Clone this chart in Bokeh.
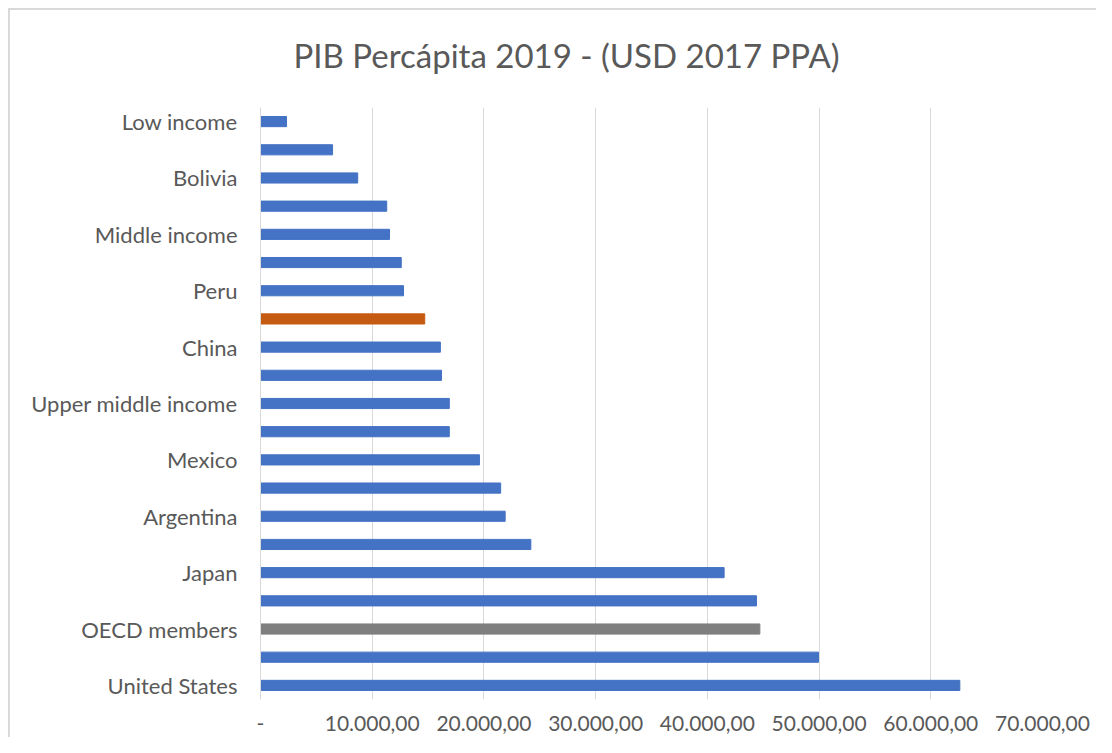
from bokeh.plotting import figure
from bokeh.models import Range1d, FixedTicker, ColumnDataSource, Title
from bokeh.embed import file_html
from bokeh.resources import INLINE

# Categories top to bottom; empty strings are rows whose labels are hidden in the original
categories = ["Low income", "", "Bolivia", "", "Middle income", "", "Peru", "",
              "China", "", "Upper middle income", "", "Mexico", "", "Argentina", "",
              "Japan", "", "OECD members", "", "United States"]
values = [2330, 6450, 8700, 11300, 11550, 12600, 12800, 14700,
          16100, 16200, 16900, 16900, 19600, 21500, 21900, 24200,
          41500, 44400, 44700, 49950, 62600]
bar_colors = ["#4472C4"] * 7 + ["#C55A11"] + ["#4472C4"] * 10 + ["#7F7F7F"] + ["#4472C4"] * 2
x_ticks = [0, 10000, 20000, 30000, 40000, 50000, 60000, 70000]
x_tick_labels = ["-", "10.000,00", "20.000,00", "30.000,00", "40.000,00",
                 "50.000,00", "60.000,00", "70.000,00"]
title_text = "PIB Percápita 2019 - (USD 2017 PPA)"

FONT = "Lato"
GRAY = "#595959"

rows = list(range(len(categories)))
src = ColumnDataSource(dict(y=rows, v=values, c=bar_colors))

# chart-area border (top-left corner visible in the original) drawn as CSS background lines
border_styles = {
    "background-color": "white",
    "background-image": "linear-gradient(#D9D9D9, #D9D9D9), linear-gradient(#D9D9D9, #D9D9D9)",
    "background-size": "100% 2px, 2px 100%",
    "background-position": "8px 8px, 8px 8px",
    "background-repeat": "no-repeat",
}

p = figure(width=1096, height=737, output_backend="svg", toolbar_location=None,
           x_range=Range1d(0, 70000), y_range=Range1d(len(categories) - 0.5, -0.5),
           min_border_left=260, min_border_right=54, min_border_top=107, min_border_bottom=38,
           border_fill_color=None, background_fill_color=None, styles=border_styles)

p.hbar(y="y", left=0, right="v", height=0.36, color="c", source=src)

t = Title(text=title_text, align="left", offset=33, text_font=FONT, text_font_size="33px",
          text_font_style="normal", text_color=GRAY, standoff=65)
p.add_layout(t, "above")

p.xaxis.ticker = FixedTicker(ticks=x_ticks)
p.xaxis.major_label_overrides = {t_: l for t_, l in zip(x_ticks, x_tick_labels)}
p.xaxis.axis_line_color = None
p.xaxis.major_tick_line_color = None
p.xaxis.minor_tick_line_color = None
p.xaxis.major_label_text_font = FONT
p.xaxis.major_label_text_font_size = "21px"
p.xaxis.major_label_text_color = GRAY
p.xaxis.major_label_standoff = 10

p.yaxis.ticker = FixedTicker(ticks=rows)
p.yaxis.major_label_overrides = {r: c for r, c in zip(rows, categories)}
p.yaxis.axis_line_color = "#D9D9D9"
p.yaxis.major_tick_line_color = None
p.yaxis.minor_tick_line_color = None
p.yaxis.major_label_text_font = FONT
p.yaxis.major_label_text_font_size = "22px"
p.yaxis.major_label_text_color = GRAY
p.yaxis.major_label_standoff = 17

p.xgrid.grid_line_color = "#D9D9D9"
p.ygrid.grid_line_color = None
p.outline_line_color = None

open("out.html", "w").write(file_html(p, INLINE))
